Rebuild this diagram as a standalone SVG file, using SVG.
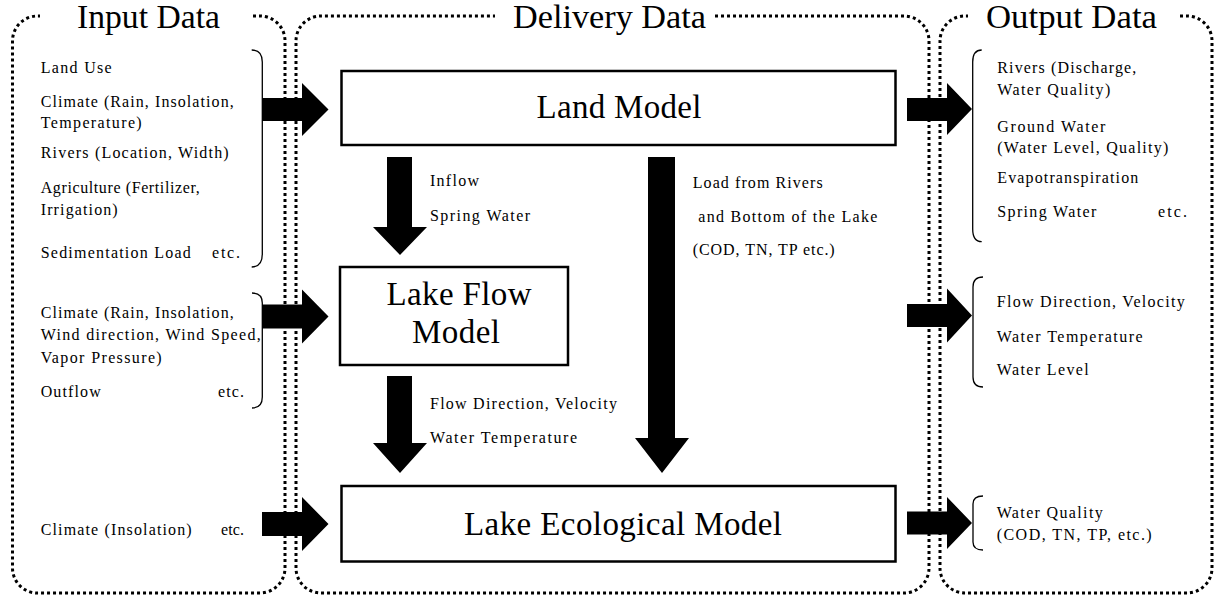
<svg xmlns="http://www.w3.org/2000/svg" width="1217" height="599" viewBox="0 0 1217 599" font-family="'Liberation Serif', 'Times New Roman', serif">
<style>
.cont{fill:none;stroke:#000;stroke-width:3;stroke-dasharray:3 3}
.title{font-family:'Liberation Serif','Times New Roman',serif;font-size:33px;fill:#000}
.model{font-family:'Liberation Serif','Times New Roman',serif;font-size:33px;fill:#000;text-anchor:middle}
.box{fill:#fff;stroke:#000;stroke-width:2.5}
.lbl{font-family:'Liberation Serif','Times New Roman',serif;font-size:16px;fill:#000}
.br{fill:none;stroke:#000;stroke-width:1.3}
.arr{fill:#000}
</style>
<rect width="1217" height="599" fill="#fff"/>
<g id="input-data">
<path class="cont" d="M253,16 H260 A25,25 0 0 1 285,41 V568 A25,25 0 0 1 260,593 H37.5 A25,25 0 0 1 12.5,568 V41 A25,25 0 0 1 37.5,16 H40"/>
<text class="title" x="77" y="28" textLength="143" lengthAdjust="spacingAndGlyphs">Input Data</text>
<path class="br" d="M251.7,50 Q262.3,50 262.3,62 V254 Q262.3,267 251.7,267"/>
<g class="lbl" font-family="'Liberation Serif', serif" font-size="16">
<text x="40.7" y="73" textLength="71">Land Use</text>
<text x="40.7" y="107" textLength="193">Climate (Rain, Insolation,</text>
<text x="40.7" y="128" textLength="101">Temperature)</text>
<text x="40.7" y="158" textLength="188">Rivers (Location, Width)</text>
<text x="40.7" y="193" textLength="159">Agriculture (Fertilizer,</text>
<text x="40.7" y="215" textLength="77">Irrigation)</text>
<text x="40.7" y="258" textLength="150">Sedimentation Load</text>
<text x="212" y="258" textLength="28">etc.</text>
<text x="40.7" y="318" textLength="193">Climate (Rain, Insolation,</text>
<text x="40.7" y="340" textLength="220">Wind direction, Wind Speed,</text>
<text x="40.7" y="363" textLength="121">Vapor Pressure)</text>
<text x="40.7" y="397" textLength="60">Outflow</text>
<text x="218" y="397" textLength="26">etc.</text>
<text x="40.7" y="535" textLength="151">Climate (Insolation)</text>
<text x="221" y="535" textLength="23">etc.</text>
</g>
<path class="br" d="M252,293 Q262.3,293 262.3,303 V397 Q262.3,408 252,408"/>
</g>
<g id="delivery-data">
<path class="cont" d="M715,16 H904 A25,25 0 0 1 929,41 V568 A25,25 0 0 1 904,593 H321 A25,25 0 0 1 296,568 V41 A25,25 0 0 1 321,16 H495"/>
<text class="title" x="513" y="28" textLength="193" lengthAdjust="spacingAndGlyphs">Delivery Data</text>
</g>
<g id="output-data">
<path class="cont" d="M1180,16 H1187 A25,25 0 0 1 1212,41 V568 A25,25 0 0 1 1187,593 H965 A25,25 0 0 1 940,568 V41 A25,25 0 0 1 965,16 H968"/>
<text class="title" x="986" y="28" textLength="171" lengthAdjust="spacingAndGlyphs">Output Data</text>
<path class="br" d="M981.7,50 Q972.7,50 972.7,62 V229 Q972.7,241.7 981.7,241.7"/>
<path class="br" d="M983,277 Q973,277 973,287 V377 Q973,387 983,387"/>
<path class="br" d="M983,496 Q973,496 973,504 V542 Q973,550 983,550"/>
<g class="lbl" font-family="'Liberation Serif', serif" font-size="16">
<text x="997.3" y="73" textLength="139">Rivers (Discharge,</text>
<text x="997.3" y="95" textLength="113">Water Quality)</text>
<text x="997.3" y="132" textLength="108">Ground Water</text>
<text x="997.3" y="153" textLength="171">(Water Level, Quality)</text>
<text x="997.3" y="183" textLength="141">Evapotranspiration</text>
<text x="997.3" y="217" textLength="99">Spring Water</text>
<text x="1158" y="217" textLength="29">etc.</text>
<text x="996.7" y="306.5" textLength="188">Flow Direction, Velocity</text>
<text x="996.7" y="341.5" textLength="146">Water Temperature</text>
<text x="996.7" y="375" textLength="92">Water Level</text>
<text x="996.7" y="518" textLength="106">Water Quality</text>
<text x="996.7" y="540" textLength="155">(COD, TN, TP, etc.)</text>
</g>
</g>
<g id="land-model">
<rect class="box" x="341.5" y="71" width="554" height="74"/>
<text class="model" x="619" y="118" textLength="165">Land Model</text>
</g>
<g id="lake-flow-model">
<rect class="box" x="340" y="267" width="228" height="98"/>
<text class="model" x="459" y="305" textLength="145">Lake Flow</text>
<text class="model" x="456" y="343" textLength="88">Model</text>
</g>
<g id="lake-ecological-model">
<rect class="box" x="341.5" y="486" width="554" height="75.5"/>
<text class="model" x="623" y="535" textLength="318">Lake Ecological Model</text>
</g>
<g id="connectors">
<polygon class="arr" points="262,98 302,98 302,83 328.5,109.5 302,136 302,121 262,121"/>
<polygon class="arr" points="262,304.5 302,304.5 302,289.5 328.5,316.5 302,343.5 302,328.5 262,328.5"/>
<polygon class="arr" points="262,512 302,512 302,497 328.5,524 302,551 302,536 262,536"/>
<polygon class="arr" points="907,98 947,98 947,83 972,109 947,135 947,121 907,121"/>
<polygon class="arr" points="907,304 947,304 947,288.5 972,315.5 947,342.5 947,327 907,327"/>
<polygon class="arr" points="907,511.5 947,511.5 947,497 972,523 947,549 947,534.5 907,534.5"/>
<polygon class="arr" points="387,157 412,157 412,227 427,227 400,255 373,227 387,227"/>
<polygon class="arr" points="387,376 412,376 412,443 427,443 400,473 373,443 387,443"/>
<polygon class="arr" points="648,157 675,157 675,438 689,438 662,473 635,438 648,438"/>
<g class="lbl" font-family="'Liberation Serif', serif" font-size="16">
<text x="430" y="186" textLength="49">Inflow</text>
<text x="430" y="220.5" textLength="100">Spring Water</text>
<text x="430" y="409" textLength="187">Flow Direction, Velocity</text>
<text x="430" y="443" textLength="147">Water Temperature</text>
<text x="692.7" y="188" textLength="130">Load from Rivers</text>
<text x="698.3" y="222" textLength="179">and Bottom of the Lake</text>
<text x="692.7" y="255" textLength="142">(COD, TN, TP etc.)</text>
</g>
</g>
</svg>
